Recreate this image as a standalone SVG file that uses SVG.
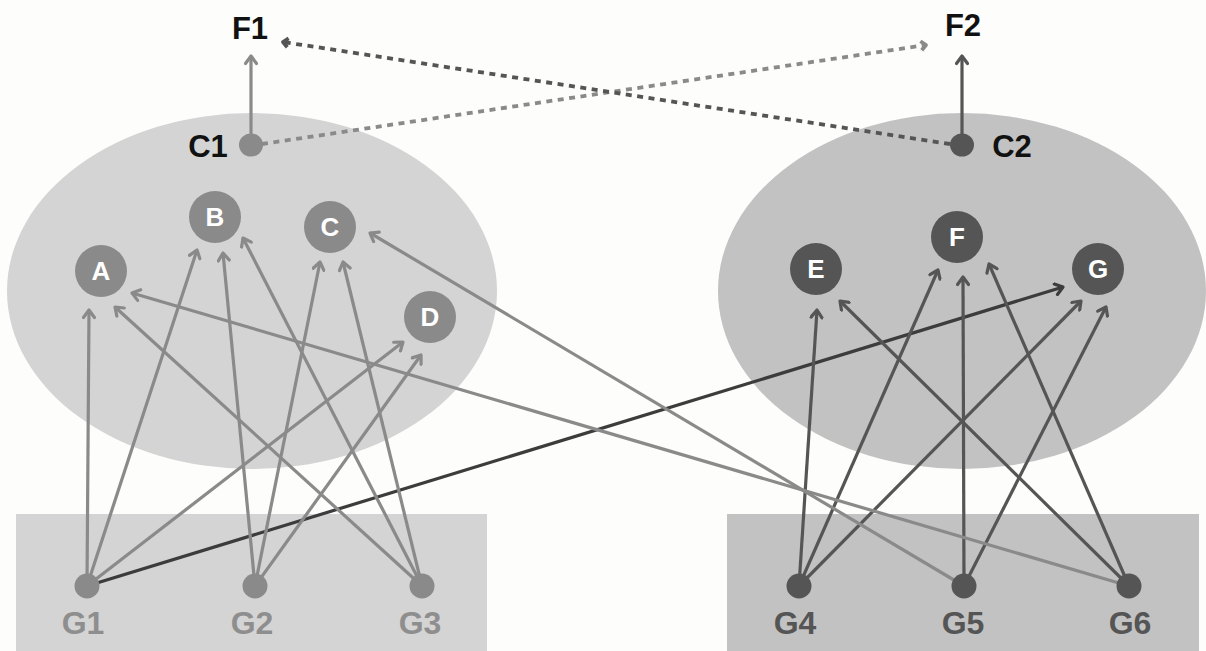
<svg xmlns="http://www.w3.org/2000/svg" width="1206" height="651" viewBox="0 0 1206 651">
  <style>
    .lbl { font-family: "Liberation Sans", Arial, sans-serif; font-weight: bold; text-anchor: middle; }
    .top { font-size: 31px; fill: #111; }
    .glbl { font-size: 32px; }
    .inner { font-size: 26px; fill: #fff; }
    .conn { fill: none; stroke-width: 3.2; }
    .conn.mid { stroke: #8a8a8a; marker-end: url(#ah-mid); }
    .conn.dark { stroke: #555; marker-end: url(#ah-dark); }
    .conn.deep { stroke: #3c3c3c; marker-end: url(#ah-deep); }
    .dash { fill: none; stroke-width: 3.8; stroke-dasharray: 6 5.5; }
  </style>
  <defs>
    <marker id="ah-mid" viewBox="-10 -7 13 14" refX="0" refY="0" markerWidth="13" markerHeight="14" markerUnits="userSpaceOnUse" orient="auto">
      <path d="M-7.5,-5.5 L0,0 L-7.5,5.5" fill="none" stroke="#8a8a8a" stroke-width="3.2" stroke-linecap="round" stroke-linejoin="round"/>
    </marker>
    <marker id="ah-dark" viewBox="-10 -7 13 14" refX="0" refY="0" markerWidth="13" markerHeight="14" markerUnits="userSpaceOnUse" orient="auto">
      <path d="M-7.5,-5.5 L0,0 L-7.5,5.5" fill="none" stroke="#555" stroke-width="3.2" stroke-linecap="round" stroke-linejoin="round"/>
    </marker>
    <marker id="ah-deep" viewBox="-10 -7 13 14" refX="0" refY="0" markerWidth="13" markerHeight="14" markerUnits="userSpaceOnUse" orient="auto">
      <path d="M-7.5,-5.5 L0,0 L-7.5,5.5" fill="none" stroke="#3c3c3c" stroke-width="3.2" stroke-linecap="round" stroke-linejoin="round"/>
    </marker>
    <marker id="ah-dash-mid" viewBox="-10 -7 13 14" refX="0" refY="0" markerWidth="13" markerHeight="14" markerUnits="userSpaceOnUse" orient="auto">
      <path d="M-5,-4.5 L0,0 L-5,4.5" fill="none" stroke="#8a8a8a" stroke-width="3.8" stroke-linejoin="round"/>
    </marker>
    <marker id="ah-dash-dark" viewBox="-10 -7 13 14" refX="0" refY="0" markerWidth="13" markerHeight="14" markerUnits="userSpaceOnUse" orient="auto">
      <path d="M-5,-4.5 L0,0 L-5,4.5" fill="none" stroke="#555" stroke-width="3.8" stroke-linejoin="round"/>
    </marker>
  </defs>

  <rect width="1206" height="651" fill="#fdfdfb"/>

  <!-- clusters and gene panels -->
  <g id="clusters">
    <ellipse id="cluster-1" cx="252" cy="291" rx="245" ry="178" fill="#d4d4d4"/>
    <ellipse id="cluster-2" cx="962" cy="291" rx="244" ry="178" fill="#c2c2c2"/>
    <rect id="panel-1" x="16" y="514" width="471" height="137" fill="#d4d4d4"/>
    <rect id="panel-2" x="727" y="514" width="472" height="137" fill="#c2c2c2"/>
  </g>

  <!-- connectors -->
  <g id="connectors">
    <!-- cluster centres to outcomes -->
    <line class="conn mid" x1="251" y1="145" x2="251" y2="56"/>
    <line class="conn dark" x1="962" y1="145" x2="962" y2="56"/>
    <line class="dash" stroke="#8a8a8a" marker-end="url(#ah-dash-mid)" x1="262" y1="144" x2="926" y2="45"/>
    <line class="dash" stroke="#555" marker-end="url(#ah-dash-dark)" x1="950" y1="144" x2="283" y2="42"/>

    <!-- G1 -->
    <line class="conn mid" x1="87" y1="586" x2="89" y2="310"/>
    <line class="conn mid" x1="87" y1="586" x2="197" y2="250"/>
    <line class="conn mid" x1="87" y1="586" x2="403" y2="342"/>
    <line class="conn deep" x1="87" y1="586" x2="1063" y2="287"/>
    <!-- G2 -->
    <line class="conn mid" x1="255" y1="586" x2="223" y2="253"/>
    <line class="conn mid" x1="255" y1="586" x2="320" y2="262"/>
    <line class="conn mid" x1="255" y1="586" x2="421" y2="355"/>
    <!-- G3 -->
    <line class="conn mid" x1="422" y1="586" x2="115" y2="307"/>
    <line class="conn mid" x1="422" y1="586" x2="243" y2="238"/>
    <line class="conn mid" x1="422" y1="586" x2="343" y2="262"/>
    <!-- G4 -->
    <line class="conn dark" x1="799" y1="586" x2="817" y2="310"/>
    <line class="conn dark" x1="799" y1="586" x2="938" y2="270"/>
    <line class="conn dark" x1="799" y1="586" x2="1081" y2="301"/>
    <!-- G5 -->
    <line class="conn mid" x1="964" y1="586" x2="370" y2="233"/>
    <line class="conn dark" x1="964" y1="586" x2="963" y2="277"/>
    <line class="conn dark" x1="964" y1="586" x2="1106" y2="307"/>
    <!-- G6 -->
    <line class="conn mid" x1="1129" y1="586" x2="132" y2="293"/>
    <line class="conn dark" x1="1129" y1="586" x2="840" y2="301"/>
    <line class="conn dark" x1="1129" y1="586" x2="989" y2="264"/>
  </g>

  <!-- outcomes -->
  <g id="F1"><text class="lbl top" x="250" y="39">F1</text></g>
  <g id="F2"><text class="lbl top" x="963" y="36">F2</text></g>

  <!-- cluster centres -->
  <g id="C1">
    <ellipse cx="251" cy="145" rx="12" ry="11.5" fill="#8a8a8a"/>
    <text class="lbl top" x="208" y="157">C1</text>
  </g>
  <g id="C2">
    <ellipse cx="962" cy="145" rx="12" ry="11.5" fill="#555"/>
    <text class="lbl top" x="1012" y="157">C2</text>
  </g>

  <!-- cluster members -->
  <g id="A"><circle cx="101" cy="271" r="26" fill="#8a8a8a"/><text class="lbl inner" x="101" y="280">A</text></g>
  <g id="B"><circle cx="215" cy="217" r="26" fill="#8a8a8a"/><text class="lbl inner" x="215" y="226">B</text></g>
  <g id="C"><circle cx="330" cy="227" r="26" fill="#8a8a8a"/><text class="lbl inner" x="330" y="236">C</text></g>
  <g id="D"><circle cx="430" cy="317" r="26" fill="#8a8a8a"/><text class="lbl inner" x="430" y="326">D</text></g>
  <g id="E"><circle cx="816" cy="269" r="26" fill="#555"/><text class="lbl inner" x="816" y="278">E</text></g>
  <g id="F"><circle cx="957" cy="237" r="26" fill="#555"/><text class="lbl inner" x="957" y="246">F</text></g>
  <g id="G"><circle cx="1098" cy="269" r="26" fill="#555"/><text class="lbl inner" x="1098" y="278">G</text></g>

  <!-- genes -->
  <g id="G1"><circle cx="87" cy="586" r="12.5" fill="#8a8a8a"/><text class="lbl glbl" fill="#8e8e8e" x="83" y="634">G1</text></g>
  <g id="G2"><circle cx="255" cy="586" r="12.5" fill="#8a8a8a"/><text class="lbl glbl" fill="#8e8e8e" x="252" y="634">G2</text></g>
  <g id="G3"><circle cx="422" cy="586" r="12.5" fill="#8a8a8a"/><text class="lbl glbl" fill="#8e8e8e" x="420" y="634">G3</text></g>
  <g id="G4"><circle cx="799" cy="586" r="12.5" fill="#555"/><text class="lbl glbl" fill="#555" x="795" y="634">G4</text></g>
  <g id="G5"><circle cx="964" cy="586" r="12.5" fill="#555"/><text class="lbl glbl" fill="#555" x="963" y="634">G5</text></g>
  <g id="G6"><circle cx="1129" cy="586" r="12.5" fill="#555"/><text class="lbl glbl" fill="#555" x="1130" y="634">G6</text></g>
</svg>
